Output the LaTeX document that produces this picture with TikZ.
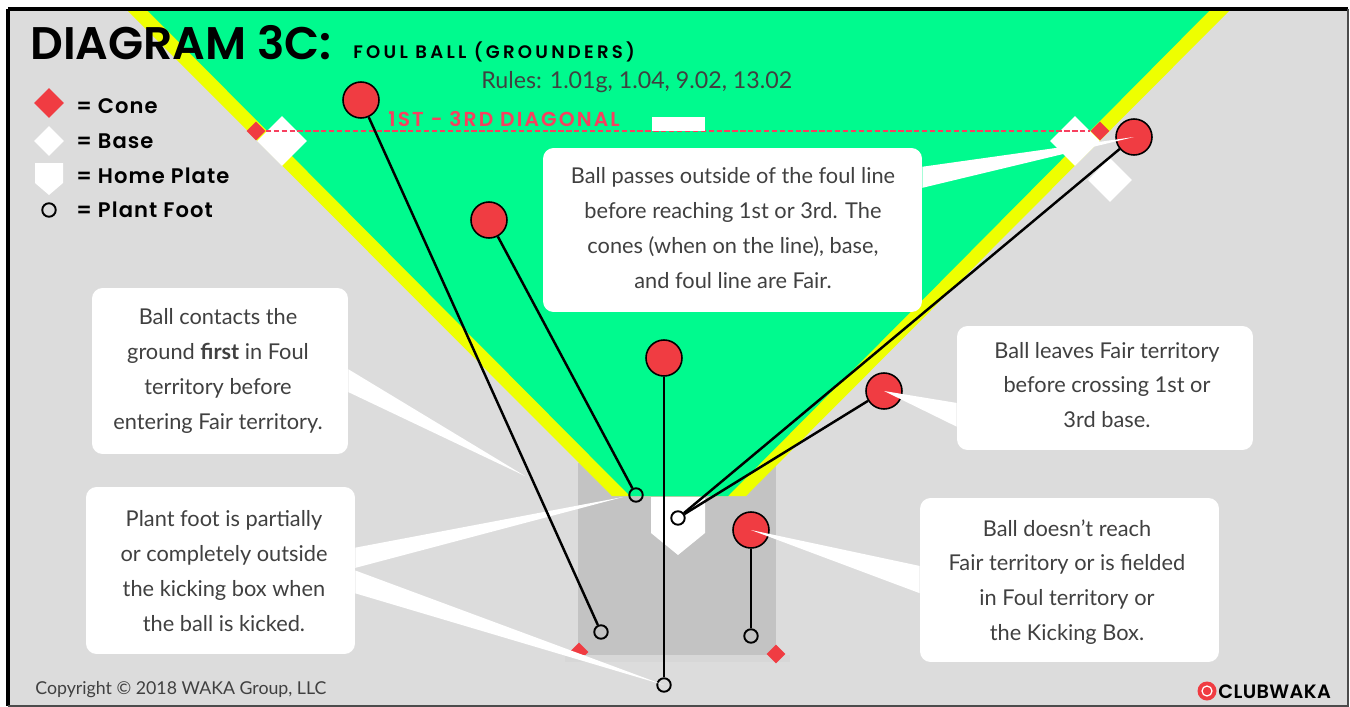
\documentclass[tikz,border=0pt]{standalone}
\usepackage{fontspec}
\setmainfont{Lato}
\newfontfamily\headfont{Poppins SemiBold}
\usetikzlibrary{shapes.geometric}
\definecolor{fieldgray}{HTML}{DCDCDC}
\definecolor{boxgray}{HTML}{C3C3C3}
\definecolor{fairgreen}{HTML}{00FA8E}
\definecolor{linelime}{HTML}{EEFF00}
\definecolor{conered}{HTML}{F03C42}
\definecolor{diagred}{HTML}{F7405F}
\definecolor{bodyink}{HTML}{404040}
\tikzset{
    ball/.style={circle,draw=black,line width=0.9pt,fill=conered,inner sep=0pt,minimum size=0.72cm},
    foot/.style={circle,draw=black,line width=1.1pt,inner sep=0pt,minimum size=0.27cm},
    cone/.style={diamond,fill=conered,inner sep=0pt,minimum size=#1},
    base/.style={diamond,fill=white,inner sep=0pt,minimum size=#1},
    callout/.style={rounded corners=6pt,fill=white,inner sep=0pt},
    calltext/.style={inner sep=0pt,align=center,text=bodyink,font=\fontsize{12.4}{19.8}\selectfont},
    pointer/.style={fill=white},
    flight/.style={line width=1.4pt,draw=black},
    legendtext/.style={anchor=west,inner sep=0pt,font=\headfont\addfontfeature{LetterSpace=5}\fontsize{12}{14}\selectfont}
}
\begin{document}
\begin{tikzpicture}[x=0.02cm,y=-0.02cm]
    \useasboundingbox (0,0) rectangle (1350,707);
    \fill[white] (0,0) rectangle (1350,707);
    \fill[fieldgray] (8,9) rectangle (1348,706);
    % kicking box
    \fill[boxgray] (578,463) rectangle (776,655);
    \node[cone=0.38cm] (conel) at (579,652) {};
    \fill[boxgray!20!fieldgray] (565,655) rectangle (790,662);
    % fair territory and foul lines
    \fill[linelime] (127,10)--(612,496)--(746,496)--(1230,10)--cycle;
    \fill[fairgreen] (147,10)--(630,496)--(728,496)--(1210,10)--cycle;
    \draw[line width=2pt] (8,9)--(1348,9);
    \draw[line width=2pt] (8,9)--(8,706);
    \draw[line width=0.6pt,black!70] (1348,9)--(1348,706)--(8,706);
    % diagonal, bases, cones
    \node[cone=0.38cm] (cone3) at (256,131) {};
    \node[cone=0.38cm] (cone1) at (1100,131) {};
    \node[base=1cm] (base3) at (282,141) {};
    \node[base=1cm] (base1) at (1075,141) {};
    \node[base=0.88cm] (base1b) at (1110,180) {};
    \draw[diagred,dash pattern=on 3pt off 1.5pt,line width=0.8pt] (cone3)--(cone1);
    \node[fill=white,inner sep=0pt,minimum width=1.06cm,minimum height=0.28cm] (pitch) at (678.5,124) {};
    \fill[white] (651,497)--(705,497)--(705,533)--(678,555)--(651,533)--cycle;
    \node[cone=0.38cm] (coner) at (776,654) {};
    % legend
    \node[cone=0.6cm] (keycone) at (49,103) {};
    \node[base=0.6cm] (keybase) at (49,141) {};
    \fill[white] (35,163)--(63,163)--(63,183)--(49,195)--(35,183)--cycle;
    \node[foot] (keyfoot) at (49,210) {};
    \node[legendtext] (keya) at (76,106) {= Cone};
    \node[legendtext] (keyb) at (76,141) {= Base};
    \node[legendtext] (keyc) at (76,176) {= Home Plate};
    \node[legendtext] (keyd) at (76,210) {= Plant Foot};
    % balls and plant feet
    \node[ball] (balla) at (361,100) {};
    \node[ball] (ballb) at (489,220) {};
    \node[ball] (ballc) at (664,358) {};
    \node[ball] (balld) at (884,391) {};
    \node[ball] (balle) at (1134,137) {};
    \node[ball] (ballf) at (751,530) {};
    \node[foot] (foota) at (601,632) {};
    \node[foot] (footb) at (636,495) {};
    \node[foot] (footc) at (664,685) {};
    \node[foot] (footd) at (678,518) {};
    \node[foot] (footf) at (751,636) {};
    % callouts
    \node[callout,minimum width=7.58cm,minimum height=3.28cm] (boxtop) at (732.5,230) {};
    \node[callout,minimum width=5.12cm,minimum height=3.32cm] (boxfirst) at (220,371) {};
    \node[callout,minimum width=5.38cm,minimum height=3.34cm] (boxplant) at (220.5,570.5) {};
    \node[callout,minimum width=5.92cm,minimum height=2.48cm] (boxleave) at (1105,388) {};
    \node[callout,minimum width=5.98cm,minimum height=3.28cm] (boxshort) at (1069.5,580) {};
    \coordinate (tipfirst) at (525,476);
    \coordinate (tipplant) at (623,497);
    \fill[pointer] ([yshift=36pt]boxtop.east)--(balle.center)--([yshift=24pt]boxtop.east)--cycle;
    \fill[pointer] ([yshift=1pt]boxfirst.east)--(tipfirst)--([yshift=-12pt]boxfirst.east)--cycle;
    \fill[pointer] ([yshift=13pt]boxplant.east)--(tipplant)--([yshift=1.5pt]boxplant.east)--cycle;
    \fill[pointer] ([yshift=0pt]boxplant.east)--(footc.center)--([yshift=-13pt]boxplant.east)--cycle;
    \fill[pointer] ([yshift=-8.5pt]boxleave.west)--(balld.center)--([yshift=-22pt]boxleave.west)--cycle;
    \fill[pointer] ([yshift=8pt]boxshort.west)--(ballf.center)--([yshift=-7.5pt]boxshort.west)--cycle;
    \node[calltext] (texttop) at (733,228) {Ball passes outside of the foul line\\before reaching 1st or 3rd. The\\cones (when on the line), base,\\and foul line are Fair.};
    \node[calltext] (textfirst) at (218,371) {Ball contacts the\\ground \textbf{first} in Foul\\territory before\\entering Fair territory.};
    \node[calltext] (textplant) at (224,571) {Plant foot is partially\\or completely outside\\the kicking box when\\the ball is kicked.};
    \node[calltext] (textleave) at (1107,385) {Ball leaves Fair territory\\before crossing 1st or\\3rd base.};
    \node[calltext] (textshort) at (1067,582) {Ball doesn't reach\\Fair territory or is fielded\\in Foul territory or\\the Kicking Box.};
    % flight of each ball
    \draw[flight] (balla)--(foota);
    \draw[flight] (ballb)--(footb);
    \draw[flight] (ballc)--(footc);
    \draw[flight] (balld)--(footd);
    \draw[flight] (balle)--(footd);
    \draw[flight] (ballf)--(footf);
    % headings
    \node[anchor=west,inner sep=0pt,font=\headfont\fontsize{26}{30}\selectfont] (title) at (30,43) {DIAGRAM 3C:};
    \node[anchor=west,inner sep=0pt,font=\headfont\addfontfeature{LetterSpace=18}\fontsize{10.3}{12}\selectfont] (subtitle) at (353,52) {FOUL BALL (GROUNDERS)};
    \node[anchor=west,inner sep=0pt,text=bodyink,font=\fontsize{13.2}{15}\selectfont] (rules) at (481,82) {Rules: 1.01g, 1.04, 9.02, 13.02};
    \node[anchor=west,inner sep=0pt,text=diagred,font=\headfont\addfontfeature{LetterSpace=10.5}\fontsize{11.5}{14}\selectfont] (diagonal) at (388,119) {1ST - 3RD DIAGONAL};
    \node[anchor=west,inner sep=0pt,text=bodyink,font=\fontsize{10.1}{12}\selectfont] (copyright) at (35,690) {Copyright © 2018 WAKA Group, LLC};
    \node[circle,fill=conered,inner sep=0pt,minimum size=0.38cm] (logo) at (1207,691) {};
    \node[circle,draw=white,line width=0.7pt,inner sep=0pt,minimum size=0.2cm] (logoring) at (logo) {};
    \node[anchor=west,inner sep=0pt,font=\headfont\addfontfeature{LetterSpace=2}\fontsize{11}{13}\selectfont] (brand) at (1218,692) {CLUBWAKA};
\end{tikzpicture}
\end{document}
